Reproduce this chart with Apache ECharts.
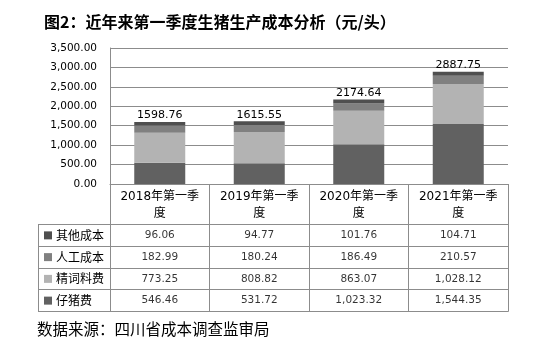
<!DOCTYPE html>
<html>
<head>
<meta charset="utf-8">
<script src="https://cdn.jsdelivr.net/npm/echarts@6/dist/echarts.min.js"></script>
<style>
html,body{margin:0;padding:0;background:#fff;}
#c{width:550px;height:348px;}
</style>
</head>
<body>
<div id="c"></div>
<script>
// ---- data ----
var categories = ['2018年第一季度', '2019年第一季度', '2020年第一季度', '2021年第一季度'];
var seriesNames = ['仔猪费', '精词料费', '人工成本', '其他成本'];
var piglet = [546.46, 531.72, 1023.32, 1544.35];
var feed = [773.25, 808.82, 863.07, 1028.12];
var labor = [182.99, 180.24, 186.49, 210.57];
var other = [96.06, 94.77, 101.76, 104.71];
var yTicks = [0, 500, 1000, 1500, 2000, 2500, 3000, 3500];
var titleText = '图2：近年来第一季度生猪生产成本分析（元/头）';
var sourceText = '数据来源：四川省成本调查监审局';

// ---- styles / layout ----
var colors = ['#616161', '#b3b3b3', '#808080', '#4f4f4f'];
var lineColor = '#8c8c8c';
var FONT = '"DejaVu Sans", "Noto Sans CJK SC", sans-serif';
var CJK = '"Noto Sans CJK SC", sans-serif';
var PL = 110, PR = 508, PT = 48, PB = 184;
var TL = 38, TH = 224.5, TB = 311.5;

var values = [piglet, feed, labor, other];
var totals = categories.map(function (c, i) {
  return values.reduce(function (s, arr) { return s + arr[i]; }, 0);
});
function fmt(v) {
  return v.toLocaleString('en-US', {minimumFractionDigits: 2, maximumFractionDigits: 2});
}

// table rows: top to bottom
var rowOrder = [3, 2, 1, 0];
var rowNames = rowOrder.map(function (k) { return seriesNames[k]; });

var series = [];
values.forEach(function (arr, k) {
  series.push({
    name: seriesNames[k],
    type: 'bar',
    stack: 'total',
    xAxisIndex: 0, yAxisIndex: 0,
    barWidth: 51,
    itemStyle: {color: colors[k]},
    label: k === 3 ? {
      show: true, position: 'top', distance: 1,
      formatter: function (p) { return totals[p.dataIndex].toFixed(2); },
      fontFamily: FONT, fontSize: 11, color: '#000'
    } : {show: false},
    data: arr
  });
});

// table cells
rowOrder.forEach(function (k, r) {
  series.push({
    type: 'scatter',
    xAxisIndex: 1, yAxisIndex: 1,
    symbolSize: 0,
    silent: true,
    label: {
      show: true, position: 'inside',
      formatter: function (p) { return fmt(p.value[2]); },
      fontFamily: FONT, fontSize: 10.5, color: '#000'
    },
    data: values[k].map(function (v, i) { return [categories[i], rowNames[r], v]; })
  });
});

// table lines (layout)
var graphics = [];
var rowLines = [];
var nRows = rowNames.length;
for (var r = 0; r <= nRows; r++) {
  rowLines.push(TH + (TB - TH) * r / nRows);
}
rowLines.forEach(function (y) {
  var yy = Math.round(y - 0.5) + 0.5;
  graphics.push({type: 'line', shape: {x1: TL, y1: yy, x2: PR + 0.5, y2: yy},
    style: {stroke: lineColor, lineWidth: 1}, silent: true});
});
graphics.push({type: 'line', shape: {x1: TL + 0.5, y1: Math.round(TH - 0.5) + 0.5, x2: TL + 0.5, y2: Math.round(TB - 0.5) + 0.5},
  style: {stroke: lineColor, lineWidth: 1}, silent: true});
graphics.push({type: 'text', left: 44, top: 14,
  style: {text: titleText, font: 'bold 16px ' + CJK, fill: '#000'}});
graphics.push({type: 'text', left: 37, top: 321,
  style: {text: sourceText, font: '15.5px ' + CJK, fill: '#000'}});

var rich = {};
rowOrder.forEach(function (k, r) {
  rich['sq' + r] = {width: 8, height: 8, backgroundColor: colors[k]};
});
rich.t = {fontFamily: CJK, fontSize: 12, color: '#000', padding: [0, 0, 0, 4]};

var chart = echarts.init(document.getElementById('c'), null, {renderer: 'canvas'});
chart.setOption({
  animation: false,
  backgroundColor: '#fff',
  grid: [
    {left: PL, top: PT, width: PR - PL, height: PB - PT},
    {left: PL, top: TH, width: PR - PL, height: TB - TH}
  ],
  xAxis: [{
    type: 'category', gridIndex: 0, data: categories,
    axisLine: {show: true, lineStyle: {color: lineColor}},
    axisTick: {show: true, interval: 0, length: TB - PB, lineStyle: {color: lineColor}},
    axisLabel: {
      interval: 0, margin: 4, lineHeight: 17,
      fontFamily: FONT, fontSize: 12, color: '#000',
      formatter: function (v) { return v.slice(0, v.length - 1) + '\n' + v.slice(v.length - 1); }
    }
  }, {
    type: 'category', gridIndex: 1, data: categories, show: false
  }],
  yAxis: [{
    type: 'value', gridIndex: 0, min: yTicks[0], max: yTicks[yTicks.length - 1], interval: yTicks[1] - yTicks[0],
    axisLine: {show: true, lineStyle: {color: lineColor}},
    axisTick: {show: false},
    splitLine: {show: true, lineStyle: {color: lineColor}},
    axisLabel: {margin: 13, fontFamily: FONT, fontSize: 10.5, color: '#000',
      formatter: function (v) { return fmt(v); }}
  }, {
    type: 'category', gridIndex: 1, data: rowNames, inverse: true,
    axisLine: {show: false}, axisTick: {show: false}, splitLine: {show: false},
    axisLabel: {
      align: 'left', margin: PL - 44,
      formatter: function (v, i) { return '{sq' + i + '|}{t|' + v + '}'; },
      rich: rich
    }
  }],
  series: series,
  graphic: graphics
});
</script>
</body>
</html>
